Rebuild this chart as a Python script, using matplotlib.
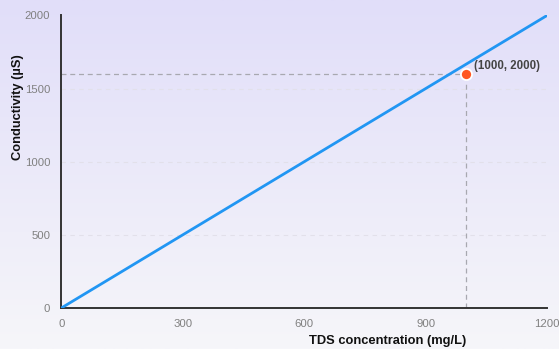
import numpy as np
import matplotlib
matplotlib.use("Agg")
import matplotlib.pyplot as plt
from matplotlib.colors import LinearSegmentedColormap

plt.rcParams['font.family'] = ['Liberation Sans', 'DejaVu Sans']

# Data
line_x = [0, 1200]
line_y = [0, 2000]
point_x = 1000
point_y = 1600
point_label = "(1000, 2000)"
x_ticks = [0, 300, 600, 900, 1200]
y_ticks = [0, 500, 1000, 1500, 2000]
x_label = "TDS concentration (mg/L)"
y_label = "Conductivity (µS)"

fig = plt.figure(figsize=(5.59, 3.49), dpi=100)

# gradient background
bg = fig.add_axes([0, 0, 1, 1], zorder=0)
cmap = LinearSegmentedColormap.from_list("bg", ["#f6f6fa", "#e1def9"])
grad = np.linspace(0, 1, 256).reshape(-1, 1)
bg.imshow(grad, aspect='auto', cmap=cmap, origin='lower', extent=[0, 1, 0, 1])
bg.axis('off')

ax = fig.add_axes([0.1097, 0.1175, 0.9785 - 0.1097, 0.9556 - 0.1175], zorder=1)
ax.set_facecolor('none')
ax.set_xlim(0, 1200)
ax.set_ylim(0, 2000)

for s in ['top', 'right']:
    ax.spines[s].set_visible(False)
for s in ['left', 'bottom']:
    ax.spines[s].set_color('#333333')
    ax.spines[s].set_linewidth(1.4)

ax.set_xticks(x_ticks)
ax.set_yticks(y_ticks)
ax.tick_params(length=0, labelsize=8.2, labelcolor='#808080')
ax.tick_params(axis='x', pad=8)
ax.tick_params(axis='y', pad=8)

for yv in y_ticks[1:-1]:
    ax.axhline(yv, color='#e2e0ea', lw=0.8, ls=(0, (4, 4)), zorder=1)

ax.plot([0, point_x], [point_y, point_y], color='#a8a8b0', lw=0.9, ls=(0, (4, 3)), zorder=2)
ax.plot([point_x, point_x], [0, point_y], color='#a8a8b0', lw=0.9, ls=(0, (4, 3)), zorder=2)

ax.plot(line_x, line_y, color='#2196f3', lw=2.0, zorder=3, solid_capstyle='round')
ax.plot([point_x], [point_y], 'o', color='#ff5722', markersize=8, markeredgecolor='white',
        markeredgewidth=1.3, zorder=4, clip_on=False)
ax.annotate(point_label, (point_x, point_y), xytext=(6, 6), textcoords='offset points',
            fontsize=8.3, fontweight='bold', color='#444444', ha='left', va='center')

fig.text(388 / 559, 1 - 341 / 349, x_label, fontsize=9.3, fontweight='bold',
         ha='center', va='center', color='#111111')
fig.text(18 / 559, 1 - 107 / 349, y_label, fontsize=9.3, fontweight='bold',
         ha='center', va='center', rotation=90, color='#111111')

fig.savefig("out.png", dpi=100)
